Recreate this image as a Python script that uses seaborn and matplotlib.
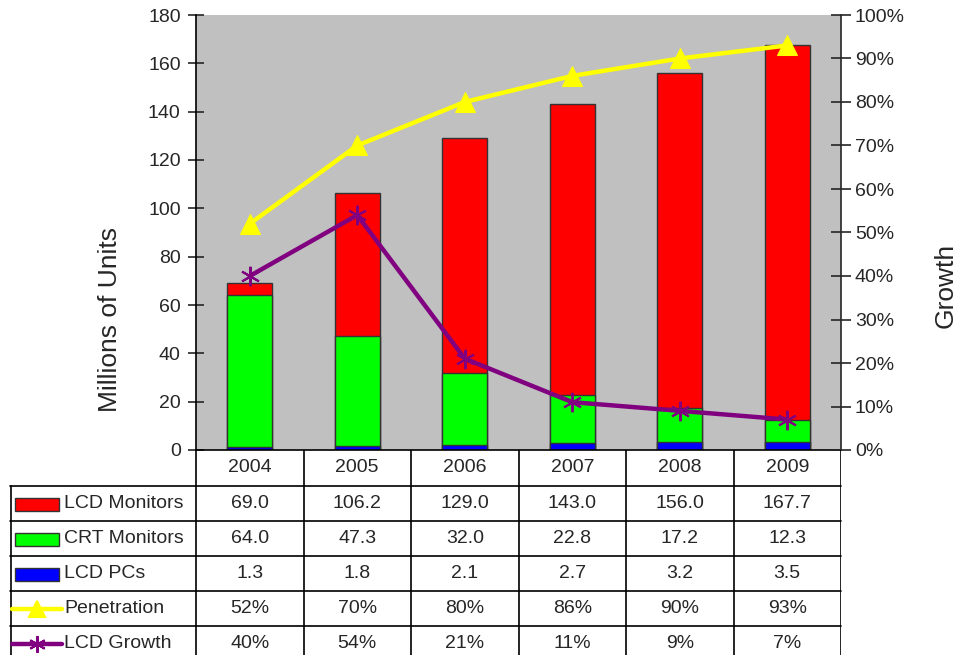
import numpy as np
import pandas as pd
import matplotlib
matplotlib.use("Agg")
import matplotlib.pyplot as plt
from matplotlib.patches import Rectangle
from matplotlib.ticker import MultipleLocator, PercentFormatter
import seaborn as sns

# data
years = ["2004", "2005", "2006", "2007", "2008", "2009"]
lcd_monitors = [69.0, 106.2, 129.0, 143.0, 156.0, 167.7]
crt_monitors = [64.0, 47.3, 32.0, 22.8, 17.2, 12.3]
lcd_pcs = [1.3, 1.8, 2.1, 2.7, 3.2, 3.5]
penetration = [52, 70, 80, 86, 90, 93]
lcd_growth = [40, 54, 21, 11, 9, 7]

RED, GREEN, BLUE = "#ff0000", "#00ff00", "#0000ff"
YELLOW, PURPLE = "#ffff00", "#800080"

sns.set_style("white")
plt.rcParams["font.family"] = ["Liberation Sans", "DejaVu Sans"]

df = pd.DataFrame({"year": years, "lcd": lcd_monitors, "crt": crt_monitors, "pc": lcd_pcs})

W, H = 957, 655
fig = plt.figure(figsize=(W / 100, H / 100), dpi=100)
left_px, right_px, top_px, bot_px = 196, 841, 15, 450
ax = fig.add_axes([left_px / W, 1 - bot_px / H, (right_px - left_px) / W, (bot_px - top_px) / H])
ax.set_facecolor("#c0c0c0")

# overlapping bars, all from zero
for col, c in [("lcd", RED), ("crt", GREEN), ("pc", BLUE)]:
    sns.barplot(data=df, x="year", y=col, color=c, width=0.42, saturation=1,
                edgecolor="#333333", linewidth=1, ax=ax)

ax.set_xlim(-0.5, 5.5)
ax.set_ylim(0, 180)
ax.yaxis.set_major_locator(MultipleLocator(20))
ax.set_xticks([])
ax.set_xlabel("")
ax.set_ylabel("Millions of Units", fontsize=19)
ax.yaxis.set_label_coords(-(left_px - 122) / (right_px - left_px), (bot_px - 320) / (bot_px - top_px))
ax.tick_params(axis="y", direction="inout", length=12, width=1.2, labelsize=14, pad=5, left=True)
for s in ax.spines.values():
    s.set_color("black")
    s.set_linewidth(1.2)
ax.spines["top"].set_visible(False)
ax.spines["right"].set_visible(False)

ax2 = ax.twinx()
pos = np.arange(len(years))
sns.lineplot(x=pos, y=lcd_growth, color=PURPLE, linewidth=3.2, marker=(6, 2, 0),
             markersize=14, markeredgecolor=PURPLE, markeredgewidth=1.5, ax=ax2)
sns.lineplot(x=pos, y=penetration, color=YELLOW, linewidth=3.2, marker="^",
             markersize=14, markeredgecolor=YELLOW, ax=ax2)
ax2.set_ylim(0, 100)
ax2.set_xlim(-0.5, 5.5)
ax2.yaxis.set_major_locator(MultipleLocator(10))
ax2.yaxis.set_major_formatter(PercentFormatter(decimals=0))
ax2.tick_params(axis="y", direction="inout", length=14, width=1.2, labelsize=14, pad=3, right=True)
ax2.set_ylabel("Growth", fontsize=19, rotation=90)
ax2.yaxis.set_label_coords((934 - left_px) / (right_px - left_px), (bot_px - 285) / (bot_px - top_px))
for s in ["top", "left", "bottom"]:
    ax2.spines[s].set_visible(False)
ax2.spines["right"].set_linewidth(1.2)

# data table under the chart
tab_left = 10
upx = (right_px - left_px) / 6.0
x0 = -0.5 - (left_px - tab_left) / upx
axt = fig.add_axes([tab_left / W, 0, (right_px - tab_left) / W, (H - bot_px) / H])
axt.set_xlim(x0, 5.5)
axt.set_ylim(H - bot_px, 0)
axt.axis("off")


def px(p):
    return x0 + (p - tab_left) / upx


rows = [36, 71, 106, 141, 176, 211]
for y in rows[:-1]:
    axt.plot([x0, 5.5], [y, y], color="black", lw=1.2, clip_on=False)
axt.plot([x0 + 0.005, x0 + 0.005], [rows[0], 210], color="black", lw=1.2)
for b in np.arange(-0.5, 6.0, 1.0):
    axt.plot([b, b], [0, 210], color="black", lw=1.2)

for i, y in enumerate(years):
    axt.text(i, 18, y, ha="center", va="center", fontsize=14)

labels = ["LCD Monitors", "CRT Monitors", "LCD PCs", "Penetration", "LCD Growth"]
values = [
    ["%.1f" % v for v in lcd_monitors],
    ["%.1f" % v for v in crt_monitors],
    ["%.1f" % v for v in lcd_pcs],
    ["%d%%" % v for v in penetration],
    ["%d%%" % v for v in lcd_growth],
]
for r, (lab, vals) in enumerate(zip(labels, values)):
    yc = (rows[r] + rows[r + 1]) / 2
    axt.text(px(64), yc, lab, ha="left", va="center", fontsize=14)
    for i, v in enumerate(vals):
        axt.text(i, yc, v, ha="center", va="center", fontsize=14)

for r, c in enumerate([RED, GREEN, BLUE]):
    yc = (rows[r] + rows[r + 1]) / 2
    axt.add_patch(Rectangle((px(15), yc - 6), px(59) - px(15), 13, facecolor=c,
                            edgecolor="#333333", lw=1))
for r, c, m in [(3, YELLOW, "^"), (4, PURPLE, (6, 2, 0))]:
    yc = (rows[r] + rows[r + 1]) / 2
    axt.plot([px(12), px(62)], [yc, yc], color=c, lw=3.2)
    axt.plot([px(37)], [yc], color=c, marker=m, markersize=12, markeredgecolor=c, markeredgewidth=1.5)

fig.savefig("out.png", dpi=100)
